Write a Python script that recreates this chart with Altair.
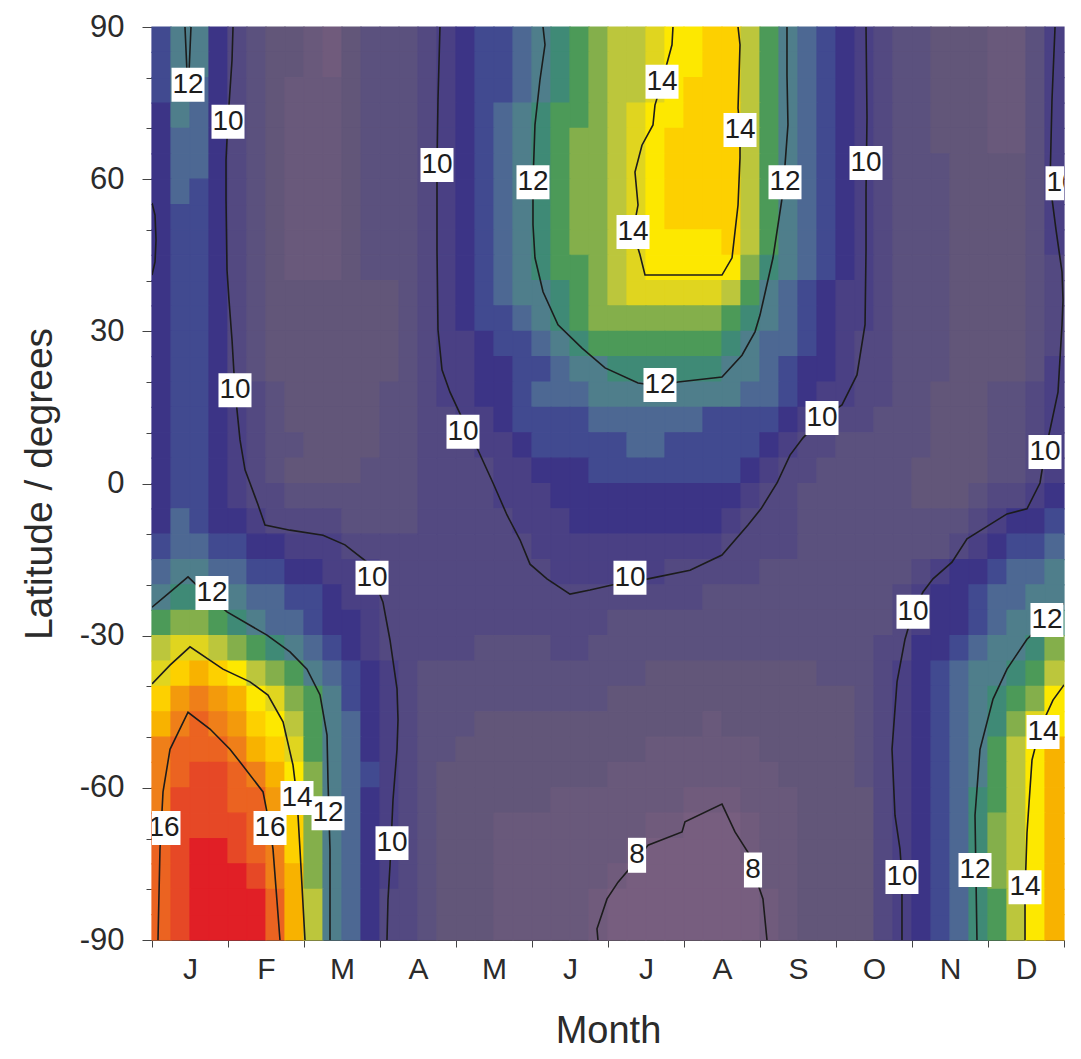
import json
import altair as alt
import pandas as pd

# ---------------- data ----------------
MONTHS = ["J", "F", "M", "A", "M", "J", "J", "A", "S", "O", "N", "D"]

# band codes (one letter per filled contour band) and the value each band stands for
BAND_CODES = "abcdefghijklmnopqrstuvwx"
BAND_VALUES = [7.8, 8.2, 8.6, 9.0, 9.4, 9.8, 10.2, 10.6, 11.0, 11.4, 11.8, 12.2,
               12.6, 13.0, 13.4, 13.8, 14.2, 14.6, 15.0, 15.4, 15.8, 16.2, 16.6, 17.0]
THRESHOLDS = [8.0, 8.4, 8.8, 9.2, 9.6, 10.0, 10.4, 10.8, 11.2, 11.6, 12.0, 12.4,
              12.8, 13.2, 13.6, 14.0, 14.4, 14.8, 15.2, 15.6, 16.0, 16.4, 16.8]
BAND_COLORS = ["#775e7f", "#705b7c", "#69597b", "#625679", "#5b517e", "#534981",
               "#4a4084", "#3c3486", "#414a90", "#4d6893", "#4f7e8b", "#3f8a76",
               "#4c9a58", "#84af4b", "#bcc63c", "#e0d51f", "#fde800", "#fdd000",
               "#f8b200", "#f39a0c", "#ef7f19", "#eb6321", "#e64826", "#e11f26"]

MONTH_STEP = 0.25   # grid cell width in months
LAT_STEP = 5.0      # grid cell height in degrees

# rows from 90N (top) to 90S (bottom), 48 quarter-month cells each
FIELD_ROWS = [
    "ikkhfedd" "cbdeeefg" "hiijklmn" "oopqqrro" "mkjihgfe" "edddcceg",
    "ikkhfedd" "cbdeeefg" "hiijklmn" "oopqqrro" "mkjihgfe" "edddcceg",
    "ikjhfedc" "ccdeeefg" "hiijklmn" "oopqrrro" "mkjihgfe" "edddcceg",
    "hkjhfedc" "ccdeeefg" "hijklmmn" "opqqrrro" "mkjihgfe" "edddcceg",
    "hjjhfedc" "ccdeeefg" "hijklmnn" "opqrrrro" "mkjihgfe" "edddcceg",
    "hjjhfedc" "ccdeeefg" "hijklmnn" "opqrrrro" "mkjihgfe" "eeddddeg",
    "hjihfedc" "ccdeeefg" "hijklmnn" "opqrrrro" "mkjihgfe" "eeddddeg",
    "hiihfedc" "ccdeeefg" "hijklmnn" "opqrrrro" "mkjihgfe" "eeddddeg",
    "hiihfedc" "ccdeeefg" "hijklmnn" "opqqqqro" "mkjihgfe" "eeddddeg",
    "hiihfedc" "ccdeeefg" "hijklmmn" "opqqqqqn" "lkjihgfe" "eeddddef",
    "hiihfedd" "dddddefg" "hijkklmn" "opppppom" "kjihggfe" "eeddddef",
    "hiihfedd" "dddddefg" "hiijklmn" "nnnnnnml" "kjihggfe" "eeddddef",
    "hiihfedd" "dddddefg" "ghiijklm" "mmmmmmlk" "jjihgffe" "eeddddef",
    "hiihfedd" "dddddefg" "ghhiijkk" "llllllkk" "jihhgffe" "eeddddeg",
    "hiihgfed" "ddddeefg" "ghhijjjk" "kkkkkkkj" "jihggffe" "edddeefg",
    "hiihgfed" "ddddeeff" "gghiiiij" "jjjjjiii" "ihggffee" "edddeefg",
    "hiihgfee" "ddddeeff" "fgghiiii" "ijjiiiii" "hgffeeee" "edddeefg",
    "hiihgfed" "dddeeeff" "ffgghhhi" "iiiiiiih" "gffeeeee" "ddddeefg",
    "hiihgffe" "eeeeeeff" "ffggghhh" "hhhhhhhg" "ffeeeeee" "dddeffgh",
    "hjihhgff" "ffeeeeff" "fffggghh" "hhhhhhgf" "ffeeeeee" "eeefghhi",
    "ijjiihhg" "ggffffff" "ffffgggg" "ggggggff" "ffeeeeee" "eefghiij",
    "jkkjjiih" "hgggffff" "fffffggg" "gggfffff" "eeeeeeee" "fghhijjk",
    "kllkkjji" "ihggffff" "ffffffff" "fffffeee" "eeeeeeef" "ghhijjkk",
    "mnnmlkjj" "ihhgffff" "ffffffff" "eeeeeeee" "eeeeeeef" "ghhijkkl",
    "opponmlk" "jihgffff" "feeeeffe" "eeeeeeee" "eeeeeeff" "hhijkkln",
    "prsrqonm" "kjihgfee" "eeeeeeee" "eedddddd" "dddeeefg" "hijkklmo",
    "rtutsqpn" "mkihgfee" "eeeeeeee" "dddddddd" "dddddefg" "hijklmnq",
    "suvutrqo" "mkjhgfee" "eddddddd" "dddddcdd" "dddddefg" "hijklnpq",
    "uvvvusrp" "mkjhgfee" "dddddddd" "ddcccccc" "dddddefg" "hijkmoqs",
    "uvwwvusq" "nkjigfed" "dddddddd" "cccccccc" "cddddefg" "hijkmoqs",
    "uwwwvvtq" "nkjhgfed" "dddddccc" "ccccbbbc" "ccddddfg" "hijlmoqs",
    "vwwwwvtr" "nkjhgfed" "ddcccccc" "ccbbaaab" "ccddddfg" "hijlnoqs",
    "vwxxwvur" "nkjhgfed" "ddcccccc" "cbaaaaab" "ccddddfg" "hijlnoqs",
    "vwxxxwus" "nkjhgfed" "ddcccccc" "baaaaaaa" "ccddddfg" "hijlnoqs",
    "vwxxxxvs" "okjhffed" "ddcccccb" "aaaaaaaa" "bcddddfg" "hijlmoqs",
    "vwxxxxvs" "okjhffed" "ddcccccb" "aaaaaaaa" "bcddddfg" "hijlmoqs",
]

# contour lines: (month, latitude) points
CONTOUR_10_A = [(1.066, 90), (1.053, 83.5), (1.0, 71.7), (0.974, 63.8), (0.974, 55.9),
                (0.987, 42.1), (1.013, 36.2), (1.053, 28.3), (1.092, 18.4), (1.158, 8.6),
                (1.224, 2.7), (1.289, 0.1), (1.395, -4.2), (1.487, -8.2), (1.816, -9.2),
                (2.25, -10.2), (2.539, -12.1), (2.829, -15.5), (3.039, -23.4), (3.132, -30.9),
                (3.224, -40.5), (3.237, -46.6), (3.224, -52.4), (3.171, -62.4), (3.132, -75.2),
                (3.105, -82.1), (3.092, -90)]
CONTOUR_10_B = [(0.0, 55.3), (0.04, 52.9), (0.053, 48.0), (0.04, 43.7), (0.0, 41.1)]
CONTOUR_10_C = [(3.789, 90), (3.763, 75.6), (3.75, 62.8), (3.75, 46.0), (3.763, 30.3),
                (3.816, 22.4), (3.921, 18.0), (4.092, 12.5), (4.289, 6.6), (4.487, 0.1),
                (4.671, -6.2), (4.842, -11.1), (4.974, -15.9), (5.197, -18.8), (5.5, -21.8),
                (5.763, -21.0), (6.053, -20.0), (6.526, -18.8), (7.079, -17.1), (7.5, -14.1),
                (7.842, -8.2), (8.013, -5.0), (8.224, 0.1), (8.395, 5.6), (8.566, 9.0),
                (8.816, 12.9), (9.079, 15.5), (9.276, 21.4), (9.382, 31.3), (9.395, 46.0),
                (9.395, 57.5), (9.408, 72.1), (9.395, 90)]
CONTOUR_10_D = [(11.882, 90), (11.842, 75.6), (11.816, 59.2), (11.895, 50.0), (11.974, 41.7),
                (11.987, 36.2), (11.974, 31.3), (11.921, 18.0), (11.816, 10.6), (11.75, 6.2),
                (11.684, 0.1), (11.513, -5.0), (11.25, -6.0), (10.724, -10.9), (10.526, -15.5),
                (10.276, -18.8), (10.145, -21.4), (10.013, -25.3), (9.908, -30.7), (9.803, -39.1),
                (9.737, -52.4), (9.776, -65.4), (9.842, -72.1), (9.868, -77.6), (9.868, -90)]
CONTOUR_12_A = [(0.434, 90), (0.474, 76.6), (0.513, 90)]
CONTOUR_12_B = [(5.145, 90), (5.171, 86.5), (5.105, 79.6), (5.039, 70.7), (5.013, 59.4),
                (5.013, 51.0), (5.039, 44.5), (5.145, 37.8), (5.342, 31.3), (5.658, 26.7),
                (5.961, 22.8), (6.395, 19.8), (6.684, 19.2), (6.921, 20.0), (7.5, 21.0),
                (7.763, 25.3), (7.934, 29.9), (8.0, 33.2), (8.171, 44.5), (8.303, 57.5),
                (8.368, 70.7), (8.355, 80.5), (8.355, 90)]
CONTOUR_12_C = [(0.0, -24.4), (0.237, -21.4), (0.474, -18.4), (0.697, -21.6), (0.987, -25.3),
                (1.513, -29.9), (1.816, -33.2), (2.039, -36.6), (2.211, -41.7), (2.303, -49.6),
                (2.316, -58.9), (2.342, -72.1), (2.342, -90)]
CONTOUR_12_D = [(12.0, -23.6), (11.776, -26.9), (11.513, -30.7), (11.25, -36.6),
                (11.066, -42.5), (10.895, -52.4), (10.829, -65.4), (10.855, -90)]
CONTOUR_14_A = [(6.855, 90), (6.842, 86.5), (6.711, 79.2), (6.618, 74.6), (6.592, 70.7),
                (6.447, 66.7), (6.355, 61.4), (6.395, 54.9), (6.329, 49.6), (6.421, 45.1),
                (6.487, 41.1), (7.5, 41.1), (7.632, 44.5), (7.711, 54.9), (7.737, 64.2),
                (7.737, 69.7), (7.711, 74.0), (7.737, 86.5), (7.711, 90)]
CONTOUR_14_B = [(0.0, -39.5), (0.237, -35.8), (0.5, -32.2), (0.934, -36.6), (1.289, -39.1),
                (1.526, -41.7), (1.724, -47.0), (1.855, -55.5), (1.908, -62.0), (1.947, -72.1),
                (2.013, -90)]
CONTOUR_14_C = [(12.0, -39.7), (11.855, -42.7), (11.724, -47.0), (11.645, -50.6),
                (11.579, -54.5), (11.513, -68.9), (11.487, -80.7), (11.487, -90)]
CONTOUR_16_A = [(0.079, -90), (0.105, -72.1), (0.145, -60.8), (0.237, -52.4), (0.474, -45.1),
                (0.763, -48.4), (1.026, -52.4), (1.158, -54.9), (1.461, -60.8), (1.553, -67.9),
                (1.592, -72.1), (1.684, -90)]
CONTOUR_8_A = [(5.868, -90), (5.855, -87.8), (5.987, -81.9), (6.132, -78.6), (6.382, -74.2),
               (6.526, -71.3), (6.974, -68.7), (7.013, -66.7), (7.5, -63.2), (7.671, -68.7),
               (7.842, -72.7), (7.908, -76.2), (8.039, -81.9), (8.092, -90)]

CONTOURS = {
    "10a": CONTOUR_10_A, "10b": CONTOUR_10_B, "10c": CONTOUR_10_C, "10d": CONTOUR_10_D,
    "12a": CONTOUR_12_A, "12b": CONTOUR_12_B, "12c": CONTOUR_12_C, "12d": CONTOUR_12_D,
    "14a": CONTOUR_14_A, "14b": CONTOUR_14_B, "14c": CONTOUR_14_C,
    "16a": CONTOUR_16_A, "8a": CONTOUR_8_A,
}

# contour labels: text, month, latitude
LABEL_TEXT = ["10", "10", "10", "10", "10", "10", "10", "10", "10", "10", "10", "10", "10",
              "12", "12", "12", "12", "12", "12", "12", "12",
              "14", "14", "14", "14", "14", "14",
              "16", "16", "8", "8"]
LABEL_MONTH = [1.0, 3.75, 9.395, 11.974, 1.092, 4.092, 8.816, 11.75, 2.895, 6.289, 10.013, 3.158, 9.868,
               0.474, 5.013, 8.329, 6.684, 0.789, 2.316, 11.776, 10.829,
               6.711, 7.737, 6.329, 1.908, 11.724, 11.487,
               0.158, 1.553, 6.382, 7.908]
LABEL_LAT = [71.3, 62.8, 63.2, 59.2, 18.4, 10.2, 12.9, 6.2, -18.6, -18.6, -25.3, -70.9, -77.6,
             78.6, 59.4, 59.4, 19.4, -21.6, -65.0, -26.9, -76.2,
             79.2, 69.7, 49.6, -62.0, -49.0, -79.6,
             -67.9, -67.9, -73.3, -76.2]

# ---------------- tables ----------------
cells = []
for r, line in enumerate(FIELD_ROWS):
    assert len(line) == 48, (r, len(line))
    for c, ch in enumerate(line):
        cells.append({
            "m0": c * MONTH_STEP, "m1": (c + 1) * MONTH_STEP,
            "lat1": 90 - r * LAT_STEP, "lat0": 90 - (r + 1) * LAT_STEP,
            "v": BAND_VALUES[BAND_CODES.index(ch)],
        })
grid = pd.DataFrame(cells)

line_rows = []
for name, pts in CONTOURS.items():
    for i, (m, lat) in enumerate(pts):
        line_rows.append({"seg": name, "i": i, "m": m, "lat": lat})
lines_df = pd.DataFrame(line_rows)

labels_df = pd.DataFrame({"t": LABEL_TEXT, "m": LABEL_MONTH, "lat": LABEL_LAT})

# ---------------- chart ----------------
FONT = "Liberation Sans"
xs = alt.Scale(domain=[0, 12], nice=False, zero=False)
ys = alt.Scale(domain=[-90, 90], nice=False, zero=False)
cs = alt.Scale(type="threshold", domain=THRESHOLDS, range=BAND_COLORS)

x_axis = alt.Axis(
    values=list(range(13)),
    labelExpr="datum.value < 12 ? " + json.dumps(MONTHS) + "[datum.value] : ''",
    labelOffset=38, labelFlush=False, labelOverlap=False,
    labelFontSize=30, labelPadding=7, tickSize=7,
    title="Month", titleFontSize=38, titlePadding=28, grid=False,
)
y_axis = alt.Axis(
    values=list(range(-90, 91, 10)),
    labelExpr="datum.value % 30 === 0 ? toString(datum.value) : ''",
    labelFontSize=31, labelPadding=18, labelOverlap=False, labelFlush=False,
    tickSize={"condition": {"test": "datum.value % 30 === 0", "value": 10}, "value": 6},
    title="Latitude / degrees", titleFontSize=39, titlePadding=20, grid=False,
)

X_M0 = alt.X("m0:Q", scale=xs, axis=x_axis, title="Month")
Y_L0 = alt.Y("lat0:Q", scale=ys, axis=y_axis, title="Latitude / degrees")
X_M = alt.X("m:Q", scale=xs, axis=x_axis, title="Month")
Y_L = alt.Y("lat:Q", scale=ys, axis=y_axis, title="Latitude / degrees")

rect = alt.Chart(grid).mark_rect(strokeWidth=1.2).encode(
    x=X_M0, x2="m1:Q", y=Y_L0, y2="lat1:Q",
    color=alt.Color("v:Q", scale=cs, legend=None),
    stroke=alt.Stroke("v:Q", scale=cs, legend=None),
)

lines = alt.Chart(lines_df).mark_line(color="#1c1c1c", strokeWidth=1.6, clip=True).encode(
    x=X_M, y=Y_L, detail="seg:N", order="i:Q",
)

BOX2 = "M-1,-1.03L1,-1.03L1,1.03L-1,1.03Z"
BOX1 = "M-0.55,-1.06L0.55,-1.06L0.55,1.06L-0.55,1.06Z"
base_lab = alt.Chart(labels_df).encode(x=X_M, y=Y_L)
boxes2 = base_lab.transform_filter("length(datum.t) == 2").mark_point(
    shape=BOX2, size=33 * 33, filled=True, color="white", opacity=1, strokeWidth=0, clip=True)
boxes1 = base_lab.transform_filter("length(datum.t) == 1").mark_point(
    shape=BOX1, size=33 * 33, filled=True, color="white", opacity=1, strokeWidth=0, clip=True)
texts = base_lab.mark_text(font=FONT, fontSize=28, color="#1c1c1c", baseline="middle",
                           align="center", clip=True).encode(text="t:N")

chart = alt.layer(rect, lines, boxes2, boxes1, texts).properties(
    width=912, height=913,
    autosize=alt.AutoSizeParams(type="none"),
    padding={"left": 144, "top": 19, "right": 9, "bottom": 111},
    background="white",
).configure_view(strokeWidth=0).configure_axis(
    labelFont=FONT, titleFont=FONT, labelColor="#2b2b2b", titleColor="#2b2b2b",
    titleFontWeight="normal", tickColor="#444", domainColor="#444", domainWidth=1,
)

chart.save("out.html", embed_options={"renderer": "svg", "actions": False})
